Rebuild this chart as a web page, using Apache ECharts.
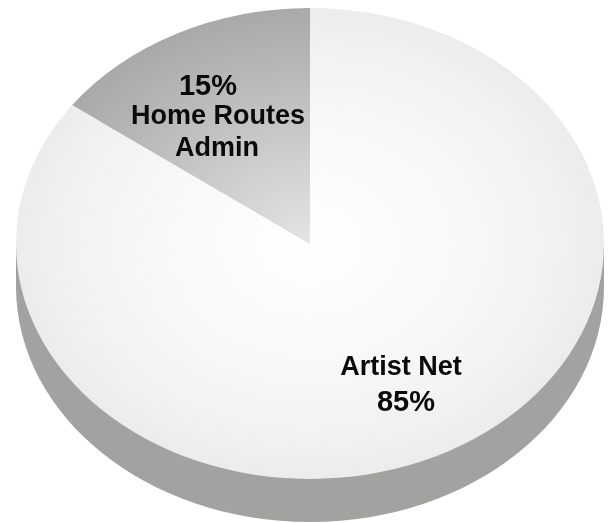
<!DOCTYPE html>
<html>
<head>
<meta charset="utf-8">
<style>html,body{margin:0;padding:0;background:#fff}#c{width:611px;height:523px}</style>
<script src="https://cdn.jsdelivr.net/npm/echarts@6/dist/echarts.min.js"></script>
</head>
<body>
<div id="c"></div>
<script>
var categories = ['Artist Net', 'Home Routes Admin'];
var values = [85, 15];
var total = values.reduce(function (a, b) { return a + b; }, 0);

var CX = 310, CY = 243.5, RX = 294, RY = 235.5, DEPTH = 43;
var FONT = '"Liberation Sans", Arial, sans-serif';

function radial(r, stops) {
  return {
    type: 'radial', x: 0, y: 0, r: r, global: true,
    colorStops: stops.map(function (s) { return { offset: s[0], color: s[1] }; })
  };
}
var faceFills = [
  radial(RX, [[0, '#fefefe'], [0.45, '#f9f9f9'], [0.8, '#f2f2f2'], [1, '#ececec']]),
  radial(RX, [[0, '#e4e4e4'], [0.35, '#d0d0d0'], [0.7, '#bababa'], [1, '#a9a9a9']])
];

function sliceItem(params, api) {
  var before = 0;
  for (var i = 0; i < params.dataIndex; i++) before += values[i];
  var v = api.value(1);
  var a0 = -Math.PI / 2 + before / total * Math.PI * 2;
  var a1 = a0 + v / total * Math.PI * 2;
  return {
    type: 'sector',
    x: CX, y: CY, scaleX: 1, scaleY: RY / RX,
    shape: { cx: 0, cy: 0, r0: 0, r: RX, startAngle: a0, endAngle: a1, clockwise: true },
    style: { fill: faceFills[params.dataIndex] },
    silent: true
  };
}

function text(str, x, y, size) {
  return {
    type: 'text', x: x, y: y, silent: true, z: 10,
    style: { text: str, fill: '#0a0a0a', font: 'bold ' + size + 'px ' + FONT, textAlign: 'center', textVerticalAlign: 'middle' }
  };
}

var chart = echarts.init(document.getElementById('c'), null, { renderer: 'canvas' });
chart.setOption({
  animation: false,
  backgroundColor: '#ffffff',
  graphic: {
    elements: [
      { type: 'rect', z: 0, shape: { x: CX - RX, y: CY, width: RX * 2, height: DEPTH }, style: { fill: '#a2a2a1' }, silent: true },
      { type: 'ellipse', z: 0, shape: { cx: CX, cy: CY + DEPTH, rx: RX, ry: RY }, style: { fill: '#a2a2a1' }, silent: true },
      text('15%', 208, 87, 29),
      text('Home Routes', 218, 117, 27),
      text('Admin', 217, 149, 27),
      text('Artist Net', 401, 368, 27),
      text('85%', 406, 403, 29)
    ]
  },
  series: [{
    type: 'custom',
    coordinateSystem: 'none',
    z: 5,
    data: categories.map(function (c, i) { return [c, values[i]]; }),
    renderItem: sliceItem
  }]
});
</script>
</body>
</html>
